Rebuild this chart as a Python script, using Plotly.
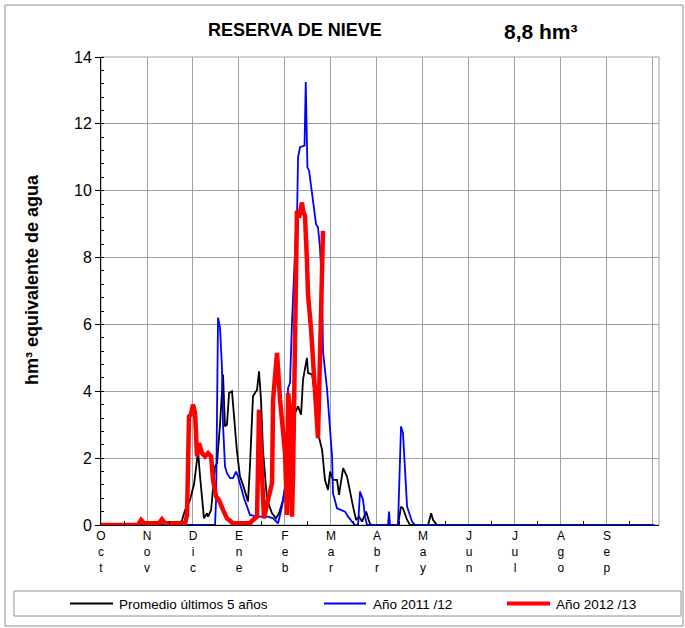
import plotly.graph_objects as go

# Month labels (hydrological year Oct-Sep)
months = ["Oct", "Nov", "Dic", "Ene", "Feb", "Mar", "Abr", "May", "Jun", "Jul", "Ago", "Sep"]

# (day since 1 Oct, hm3)
promedio = [(0, 0), (25.8, 0), (27.8, 0.12), (29.8, 0.02), (52.2, 0), (53.6, 0.15), (55.6, 0.45),
            (58.9, 0.75), (60.8, 1.1), (61.5, 1.2), (63.5, 1.95), (64.2, 2.2), (65.5, 1.45),
            (67.5, 0.55), (68.1, 0.2), (70.1, 0.35), (70.8, 0.25), (72.8, 0.45), (74.1, 1.15),
            (75.4, 1.75), (76.7, 1.85), (78.7, 3.0), (80.7, 4.5), (82.0, 2.95), (83.3, 3.0),
            (84.7, 3.95), (86.6, 4.0), (88.0, 3.25), (89.9, 2.2), (91.9, 1.45), (93.9, 1.2),
            (97.2, 0.7), (98.5, 1.75), (100.5, 3.85), (103.2, 4.05), (104.5, 4.6), (105.8, 3.75),
            (107.1, 2.25), (109.8, 0.75), (113.1, 0.35), (115.7, 0.2), (117.7, 0.35), (120.4, 0.75),
            (123.0, 1.45), (125.7, 2.5), (128.3, 3.35), (130.3, 3.55), (132.3, 3.3), (133.6, 4.35),
            (134.9, 4.75), (136.2, 5.0), (136.9, 4.55), (139.6, 4.5), (141.5, 3.85), (143.5, 2.75),
            (146.2, 2.25), (148.1, 1.35), (150.1, 1.05), (151.5, 1.6), (153.4, 1.35), (156.1, 1.35),
            (157.4, 0.9), (160.1, 1.7), (162.7, 1.45), (164.7, 1.05), (166.7, 0.55), (168.7, 0.15),
            (170.6, 0.25), (172.6, 0.1), (175.3, 0.4), (177.9, 0.03), (180, 0), (196.4, 0),
            (198.4, 0.55), (199.7, 0.5), (202.4, 0.15), (204.4, 0), (216.3, 0), (218.3, 0.35),
            (219.6, 0.15), (222.2, 0), (365, 0)]

anio_2011 = [(0, 0), (75.4, 0), (76.1, 0.75), (77.4, 6.2), (78.7, 5.9), (80.0, 4.7), (80.7, 3.0),
             (82.0, 1.75), (83.3, 1.55), (85.3, 1.4), (87.3, 1.4), (89.3, 1.6), (90.6, 1.45),
             (93.3, 0.95), (94.6, 0.8), (96.6, 0.55), (98.5, 0.3), (103.2, 0.25), (110.4, 0.25),
             (113.8, 0.2), (117.1, 0.05), (119.7, 0.55), (121.7, 1.15), (123.7, 4.1), (125.0, 4.25),
             (126.3, 6.05), (127.6, 7.5), (129.0, 8.9), (129.6, 9.1), (130.3, 11.0), (131.6, 11.3),
             (134.6, 11.35), (135.4, 13.25), (136.5, 10.7), (137.6, 10.6), (139.6, 9.9),
             (140.9, 9.3), (142.2, 9.0), (143.5, 8.9), (144.8, 8.3), (146.2, 7.1), (146.8, 5.2),
             (149.5, 4.05), (150.8, 3.25), (152.8, 2.05), (153.4, 0.95), (156.1, 0.5), (161.4, 0.4),
             (163.4, 0.25), (166.0, 0.1), (168.0, 0), (170.0, 0), (171.3, 1.0), (173.3, 0.75),
             (174.6, 0.25), (175.9, 0), (189.8, 0), (190.5, 0.4), (191.1, 0), (196.4, 0),
             (198.4, 2.95), (199.7, 2.75), (201.1, 1.55), (202.4, 0.55), (205.7, 0.1), (207.7, 0),
             (366, 0)]

anio_2012 = [(0, 0), (24.5, 0), (26.5, 0.15), (28.4, 0.05), (38.4, 0.05), (40.3, 0.17), (42.3, 0.05),
             (55.6, 0.05), (56.9, 0.3), (58.2, 3.25), (59.5, 3.3), (60.8, 3.6), (62.2, 3.35),
             (63.5, 2.05), (64.8, 2.45), (66.8, 2.15), (68.8, 2.05), (70.8, 2.15), (72.8, 2.05),
             (74.1, 1.35), (76.1, 0.85), (78.0, 0.75), (80.7, 0.45), (83.3, 0.2), (87.3, 0.05),
             (98.5, 0.05), (100.5, 0.15), (103.2, 0.25), (104.5, 3.45), (107.8, 0.2), (110.4, 0.75),
             (113.1, 1.25), (113.8, 3.75), (116.4, 5.15), (118.4, 3.75), (121.7, 2.15), (123.0, 0.3),
             (123.7, 3.95), (125.0, 3.45), (126.3, 0.25), (127.0, 1.5), (129.0, 6.7), (129.6, 9.4),
             (131.0, 9.2), (132.9, 9.65), (133.6, 9.4), (134.9, 9.25), (136.2, 7.9), (136.9, 6.9),
             (139.0, 5.8), (141.5, 4.2), (143.5, 2.6), (144.8, 5.0), (146.8, 8.8)]

series_names = ["Promedio últimos 5 años", "Año 2011 /12", "Año 2012 /13"]
series_colors = ["#000000", "#0000FF", "#FF0000"]
series_widths = [1.8, 1.8, 4.5]

FONT = "Liberation Sans, Arial, sans-serif"
W, H = 685, 628
L, R, T, B = 101, 659, 57, 525  # plot area in px


def px(x):
    return (x - L) / (R - L)


def py(y):
    return (B - y) / (B - T)


fig = go.Figure()
for data, name, col, w in zip([promedio, anio_2011, anio_2012], series_names, series_colors, series_widths):
    fig.add_trace(go.Scatter(x=[d for d, v in data], y=[v for d, v in data], mode="lines",
                             name=name, line=dict(color=col, width=w), cliponaxis=False,
                             showlegend=False))

month_len = 365 / 12
tickvals = [i * month_len for i in range(13)]
ticktext = ["<br>".join(list(m)) for m in months] + [""]

fig.update_xaxes(range=[0, 369], tickmode="array", tickvals=tickvals, ticktext=ticktext,
                 showgrid=True, gridcolor="#a0a0a0", gridwidth=1, showline=True, linecolor="#000000",
                 linewidth=1, ticks="", zeroline=False,
                 tickfont=dict(family=FONT, size=12, color="#000"),
                 minor=dict(tickmode="array", tickvals=[(i + 0.5) * month_len for i in range(12)],
                            ticks="inside", ticklen=4, tickcolor="#000", showgrid=False))
fig.update_yaxes(range=[0, 14], dtick=2, showgrid=True, gridcolor="#a0a0a0", gridwidth=1,
                 showline=True, linecolor="#000000", linewidth=1, ticks="outside", ticklen=5,
                 tickcolor="#000", zeroline=False,
                 tickfont=dict(family=FONT, size=16, color="#000"),
                 minor=dict(dtick=0.4, ticks="inside", ticklen=3, tickcolor="#000", showgrid=False))

shapes = [
    dict(type="rect", xref="paper", yref="paper", x0=0, x1=1, y0=0, y1=1,
         line=dict(color="#a0a0a0", width=1), layer="below"),
    dict(type="rect", xref="paper", yref="paper", x0=px(5), x1=px(683), y0=py(5), y1=py(626),
         line=dict(color="#909090", width=1)),
    dict(type="rect", xref="paper", yref="paper", x0=px(14), x1=px(681), y0=py(591), y1=py(616),
         line=dict(color="#909090", width=1)),
]
legend_items = [(70, 113, 117), (324, 366, 371), (507, 550, 554)]
annotations = []
for (a, b, t), name, col, w in zip(legend_items, series_names, series_colors, series_widths):
    shapes.append(dict(type="line", xref="paper", yref="paper", x0=px(a), x1=px(b), y0=py(603.5),
                       y1=py(603.5), line=dict(color=col, width=min(w, 4))))
    annotations.append(dict(text=name, xref="paper", yref="paper", x=px(t), y=py(604),
                            xanchor="left", yanchor="middle", showarrow=False,
                            font=dict(family=FONT, size=13.5, color="#000")))

annotations += [
    dict(text="<b>RESERVA DE NIEVE</b>", xref="paper", yref="paper", x=px(295), y=py(30),
         xanchor="center", yanchor="middle", showarrow=False,
         font=dict(family=FONT, size=18, color="#000")),
    dict(text="<b>8,8 hm³</b>", xref="paper", yref="paper", x=px(541), y=py(32),
         xanchor="center", yanchor="middle", showarrow=False,
         font=dict(family=FONT, size=21, color="#000")),
    dict(text="<b>hm³ equivalente de agua</b>", xref="paper", yref="paper", x=px(32), y=py(280),
         xanchor="center", yanchor="middle", showarrow=False, textangle=-90,
         font=dict(family=FONT, size=18, color="#000")),
]

fig.update_layout(width=W, height=H, margin=dict(l=L, r=W - R, t=T, b=H - B, pad=0),
                  paper_bgcolor="#ffffff", plot_bgcolor="#ffffff", showlegend=False,
                  shapes=shapes, annotations=annotations)

fig.write_html("out.html", config={"displayModeBar": False},
               post_script="document.body.style.margin='0';")
